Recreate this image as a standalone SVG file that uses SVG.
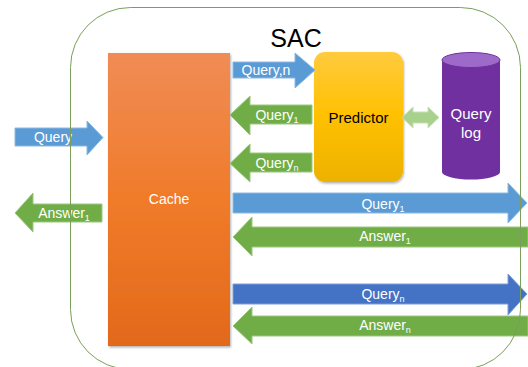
<svg xmlns="http://www.w3.org/2000/svg" width="528" height="367" viewBox="0 0 528 367">
<style>
text{font-family:"Liberation Sans","DejaVu Sans",sans-serif}
.w{fill:#fff;font-size:14px;text-anchor:middle}
.blue{fill:#5B9BD5;stroke:#8DB8E2;stroke-width:1}
.dblue{fill:#4472C4;stroke:#7D9ED8;stroke-width:1}
.green{fill:#70AD47;stroke:#9CC781;stroke-width:1}
.lgreen{fill:#A9D18E;stroke:#C5E0B3;stroke-width:1}
</style>
<defs>
<linearGradient id="gCache" x1="0" y1="0" x2="0" y2="1">
<stop offset="0" stop-color="#F08C55"/>
<stop offset="0.5" stop-color="#F07B2A"/>
<stop offset="1" stop-color="#E2691A"/>
</linearGradient>
<linearGradient id="gPred" x1="0" y1="0" x2="0" y2="1">
<stop offset="0" stop-color="#FFCB3E"/>
<stop offset="0.5" stop-color="#FFC000"/>
<stop offset="1" stop-color="#EDB200"/>
</linearGradient>
<filter id="sh" x="-10%" y="-10%" width="130%" height="130%">
<feDropShadow dx="1" dy="1.5" stdDeviation="1.2" flood-color="#000" flood-opacity="0.3"/>
</filter>
</defs>

<g id="sac">
<rect x="70.5" y="7.5" width="450" height="362" rx="60" ry="60" fill="#fff"/>
<text x="296" y="47" font-size="25" fill="#000" text-anchor="middle">SAC</text>
</g>

<g id="cache">
<rect x="108" y="53" width="122" height="293" fill="url(#gCache)" filter="url(#sh)"/>
<text x="169" y="204" font-size="14" fill="#fff" text-anchor="middle">Cache</text>
</g>

<g id="predictor">
<rect x="314" y="52" width="89" height="130" rx="11" ry="11" fill="url(#gPred)" filter="url(#sh)"/>
<text x="358.5" y="123" font-size="15" fill="#000" text-anchor="middle">Predictor</text>
</g>

<g id="querylog">
<path d="M442,60 L442,172 A29,7.5 0 0 0 500,172 L500,60 Z" fill="#7030A0"/>
<ellipse cx="471" cy="60" rx="29" ry="7.5" fill="#9E6AC9" stroke="#7030A0" stroke-width="1"/>
<text x="471" y="119" font-size="15" fill="#fff" text-anchor="middle">Query</text>
<text x="471" y="138" font-size="15" fill="#fff" text-anchor="middle">log</text>
</g>

<g id="connectors">
<g id="c-query-in">
<polygon class="blue" points="15,128 87,128 87,121 103,137.5 87,155 87,146 15,146"/>
<text class="w" x="53" y="142">Query</text>
</g>
<g id="c-answer-out">
<polygon class="green" points="102,204 33,204 33,193 15,213 33,232 33,222 102,222"/>
<text class="w" x="64" y="218">Answer<tspan font-size="9" dy="3">1</tspan></text>
</g>
<g id="c-querynn">
<polygon class="blue" points="233,62 295,62 295,53 315,70 295,88 295,78 233,78"/>
<text class="w" x="266" y="75">Query,n</text>
</g>
<g id="c-pq1">
<polygon class="green" points="312,105 250,105 250,96 230,115 250,135 250,124 312,124"/>
<text class="w" x="277" y="120">Query<tspan font-size="9" dy="3">1</tspan></text>
</g>
<g id="c-pqn">
<polygon class="green" points="312,153 250,153 250,144 230,163.5 250,182 250,172 312,172"/>
<text class="w" x="277" y="168">Query<tspan font-size="9" dy="3">n</tspan></text>
</g>
<g id="c-log">
<polygon class="lgreen" points="402,117.5 413,107 413,112 428,112 428,107 439,117.5 428,128 428,123 413,123 413,128"/>
</g>
<g id="c-q1">
<polygon class="blue" points="233,193 508,193 508,183 527,203 508,223 508,213 233,213"/>
<text class="w" x="383" y="209">Query<tspan font-size="9" dy="3">1</tspan></text>
</g>
<g id="c-a1">
<polygon class="green" points="528,227 252,227 252,217 233,237 252,256 252,247 528,247"/>
<text class="w" x="385" y="241">Answer<tspan font-size="9" dy="3">1</tspan></text>
</g>
<g id="c-qn">
<polygon class="dblue" points="233,284 508,284 508,274 527,294 508,315 508,304 233,304"/>
<text class="w" x="383" y="299">Query<tspan font-size="9" dy="3">n</tspan></text>
</g>
<g id="c-an">
<polygon class="green" points="528,316 252,316 252,307 233,326 252,344 252,336 528,336"/>
<text class="w" x="385" y="330">Answer<tspan font-size="9" dy="3">n</tspan></text>
</g>
</g>

<g id="sac-border">
<rect x="70.5" y="7.5" width="450" height="362" rx="60" ry="60" fill="none" stroke="#7A9F5A" stroke-width="1"/>
</g>
</svg>
